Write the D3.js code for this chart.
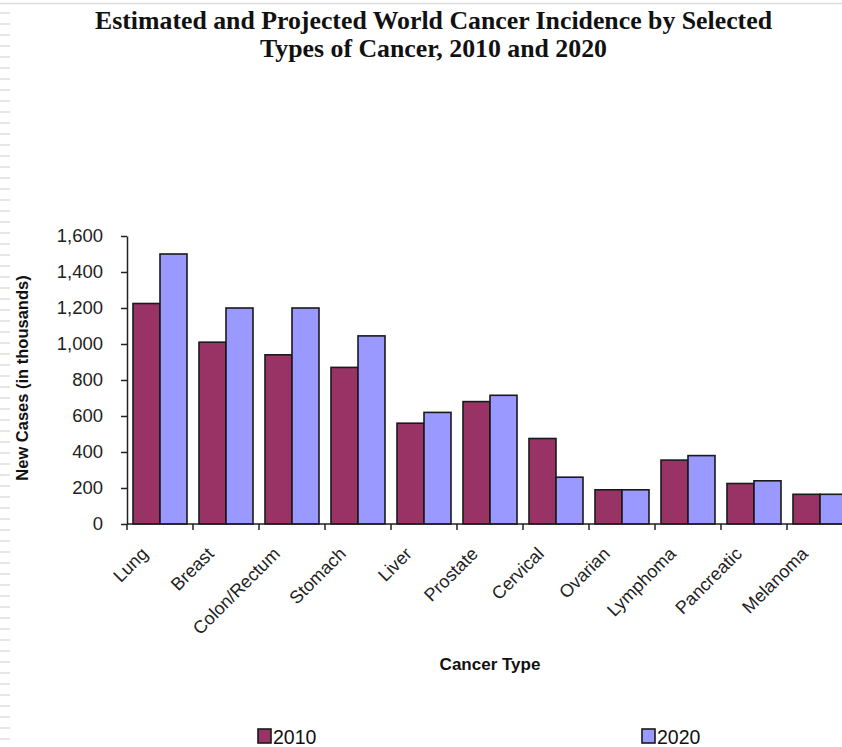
<!DOCTYPE html>
<html>
<head>
<meta charset="utf-8">
<script src="https://cdn.jsdelivr.net/npm/d3@7"></script>
<style>
  html, body { margin: 0; padding: 0; background: #fff; overflow: hidden; }
  svg { display: block; }
</style>
</head>
<body>
<svg id="chart" width="842" height="747"></svg>
<script>
// Estimated and projected new cancer cases (thousands), by type
const cancerTypes = ["Lung", "Breast", "Colon/Rectum", "Stomach", "Liver", "Prostate",
                     "Cervical", "Ovarian", "Lymphoma", "Pancreatic", "Melanoma"];
const cases2010 = [1225, 1010, 940, 870, 560, 680, 475, 190, 355, 225, 165];
const cases2020 = [1500, 1200, 1200, 1045, 620, 715, 260, 190, 380, 240, 165];
const seriesNames = ["2010", "2020"];
const seriesColors = ["#993366", "#9999FF"];
const yTicks = [0, 200, 400, 600, 800, 1000, 1200, 1400, 1600];
const titleLines = ["Estimated and Projected World Cancer Incidence by Selected",
                    "Types of Cancer, 2010 and 2020"];

const svg = d3.select("#chart");
const W = 842, H = 747;
const sans = "'Liberation Sans', Arial, sans-serif";

// page frame: thin rule on top and dashed margin on the left
svg.append("line").attr("x1", 0).attr("x2", W).attr("y1", 3.5).attr("y2", 3.5)
  .attr("stroke", "#dcdcdc").attr("stroke-width", 1.5);
svg.append("line").attr("x1", 5).attr("x2", 5).attr("y1", 12).attr("y2", H)
  .attr("stroke", "#e6e6e6").attr("stroke-width", 10)
  .attr("stroke-dasharray", "2 9");

// title (condensed serif)
const titleSpecs = [{y: 29, x0: 95, len: 677}, {y: 57, x0: 260, len: 347}];
titleLines.forEach((t, i) => {
  svg.append("text")
    .attr("x", titleSpecs[i].x0).attr("y", titleSpecs[i].y)
    .attr("textLength", titleSpecs[i].len)
    .attr("lengthAdjust", "spacingAndGlyphs")
    .attr("font-family", "'Liberation Serif', 'Times New Roman', serif")
    .attr("font-weight", "bold").attr("font-size", 24.5)
    .attr("fill", "#111")
    .text(t);
});

// plot geometry
const x0 = 127, bandW = 66, y0 = 524, yTop = 236;
const x = d3.scaleBand().domain(cancerTypes)
  .range([x0, x0 + bandW * cancerTypes.length]).paddingInner(0).paddingOuter(0);
const xs = d3.scaleBand().domain(seriesNames).range([6, 60]);
const y = d3.scaleLinear().domain([0, 1600]).range([y0, yTop]);

const rows = cancerTypes.map((c, i) => ({type: c, values: [cases2010[i], cases2020[i]]}));

// bars
const groups = svg.append("g").selectAll("g").data(rows).join("g")
  .attr("transform", d => `translate(${x(d.type)},0)`);
groups.selectAll("rect")
  .data(d => d.values.map((v, k) => ({series: seriesNames[k], value: v, k})))
  .join("rect")
  .attr("x", d => xs(d.series))
  .attr("y", d => y(d.value))
  .attr("width", xs.bandwidth())
  .attr("height", d => y(0) - y(d.value))
  .attr("fill", d => seriesColors[d.k])
  .attr("stroke", "#1a1a1a").attr("stroke-width", 1.6);

// y axis
const yAxis = d3.axisLeft(y).tickValues(yTicks).tickSize(6).tickSizeOuter(0)
  .tickFormat(d3.format(","));
const gy = svg.append("g").attr("transform", `translate(${x0},0)`).call(yAxis);
gy.select(".domain").attr("stroke", "#222").attr("stroke-width", 1.5);
gy.selectAll(".tick line").attr("stroke", "#222").attr("stroke-width", 1.5);
gy.selectAll(".tick text")
  .attr("x", -24)
  .attr("font-family", sans)
  .attr("font-size", 18.5).attr("fill", "#222");

// x axis with ticks between categories
const xAxisLine = svg.append("g");
xAxisLine.append("line")
  .attr("x1", x0).attr("x2", W + 20).attr("y1", y0).attr("y2", y0)
  .attr("stroke", "#222").attr("stroke-width", 1.5);
xAxisLine.selectAll("line.tk").data(cancerTypes).join("line")
  .attr("class", "tk")
  .attr("x1", d => x(d)).attr("x2", d => x(d))
  .attr("y1", y0).attr("y2", y0 + 6)
  .attr("stroke", "#222").attr("stroke-width", 1.5);

// category labels, rotated
svg.append("g").selectAll("text").data(cancerTypes).join("text")
  .attr("transform", d => `translate(${x(d) + bandW / 2 - 11},${y0 + 31}) rotate(-45)`)
  .attr("text-anchor", "end")
  .attr("font-family", sans)
  .attr("font-size", 18).attr("fill", "#222")
  .text(d => d);

// axis titles
svg.append("text")
  .attr("x", 490).attr("y", 670).attr("text-anchor", "middle")
  .attr("font-family", sans)
  .attr("font-weight", "bold").attr("font-size", 17).attr("fill", "#111")
  .text("Cancer Type");
svg.append("text")
  .attr("transform", "translate(28,378) rotate(-90)")
  .attr("text-anchor", "middle")
  .attr("font-family", sans)
  .attr("font-weight", "bold").attr("font-size", 16.5).attr("fill", "#111")
  .text("New Cases (in thousands)");

// legend
const legendX = [258, 642];
const lg = svg.append("g").selectAll("g").data(seriesNames).join("g")
  .attr("transform", (d, i) => `translate(${legendX[i]},729)`);
lg.append("rect").attr("width", 13).attr("height", 14)
  .attr("fill", (d, i) => seriesColors[i])
  .attr("stroke", "#1a1a1a").attr("stroke-width", 1.6);
lg.append("text").attr("x", 15).attr("y", 14.5)
  .attr("font-family", sans)
  .attr("font-size", 19.5).attr("fill", "#111")
  .text(d => d);
</script>
</body>
</html>
